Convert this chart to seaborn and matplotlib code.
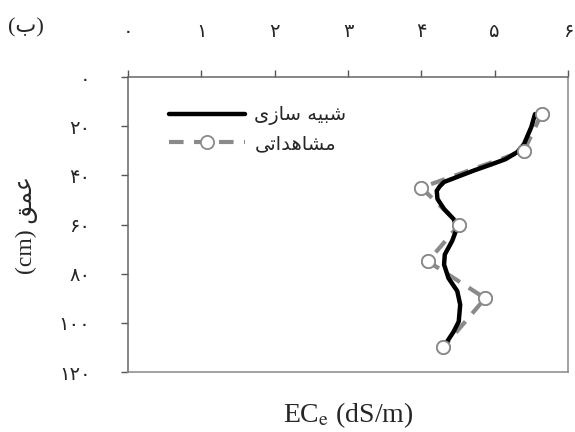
import matplotlib
matplotlib.use("Agg")
import matplotlib.pyplot as plt
import seaborn as sns
import pandas as pd

# ---------------- data ----------------
obs_depth = [15, 30, 45, 60, 75, 90, 110]
obs_ec = [5.64, 5.40, 4.00, 4.52, 4.09, 4.87, 4.30]

sim_depth = [15.1, 20.3, 27.3, 30.5, 33.4, 35.6, 38.0, 41.1, 42.7, 44.5, 46.3, 49.6,
             53.7, 57.8, 61.2, 66.7, 72.2, 76.3, 81.8, 87.1, 92.6, 99.5, 103.6, 107.7]
sim_ec = [5.55, 5.50, 5.40, 5.31, 5.15, 4.95, 4.72, 4.45, 4.31, 4.25, 4.21, 4.22,
          4.31, 4.44, 4.49, 4.42, 4.32, 4.31, 4.37, 4.49, 4.53, 4.51, 4.44, 4.35]

x_ticks = [0, 1, 2, 3, 4, 5, 6]
y_ticks = [0, 20, 40, 60, 80, 100, 120]

label_sim = "شبیه سازی"
label_obs = "مشاهداتی"
label_depth = "عمق"
panel_label = "(ب)"

# ---------------- simple Persian shaping (presentation forms, visual order) ----------------
FORMS = {
    'ا': ('\uFE8D', '\uFE8E', None, None),
    'ب': ('\uFE8F', '\uFE90', '\uFE91', '\uFE92'),
    'ت': ('\uFE95', '\uFE96', '\uFE97', '\uFE98'),
    'د': ('\uFEA9', '\uFEAA', None, None),
    'ز': ('\uFEAF', '\uFEB0', None, None),
    'س': ('\uFEB1', '\uFEB2', '\uFEB3', '\uFEB4'),
    'ش': ('\uFEB5', '\uFEB6', '\uFEB7', '\uFEB8'),
    'ع': ('\uFEC9', '\uFECA', '\uFECB', '\uFECC'),
    'ق': ('\uFED5', '\uFED6', '\uFED7', '\uFED8'),
    'م': ('\uFEE1', '\uFEE2', '\uFEE3', '\uFEE4'),
    'ه': ('\uFEE9', '\uFEEA', '\uFEEB', '\uFEEC'),
    'ی': ('\uFBFC', '\uFBFD', '\uFBFE', '\uFBFF'),
}
MIRROR = {'(': ')', ')': '('}


def fa(text):
    out = []
    n = len(text)
    for i, c in enumerate(text):
        if c not in FORMS:
            out.append(MIRROR.get(c, c))
            continue
        iso, fin, ini, med = FORMS[c]
        prev = text[i - 1] if i > 0 else None
        nxt = text[i + 1] if i < n - 1 else None
        jp = prev in FORMS and FORMS[prev][2] is not None
        jn = nxt in FORMS and ini is not None
        if jp and jn:
            out.append(med)
        elif jp:
            out.append(fin)
        elif jn:
            out.append(ini)
        else:
            out.append(iso)
    return ''.join(reversed(out))


FA_DIGITS = str.maketrans('0123456789', '۰۱۲۳۴۵۶۷۸۹')


def fa_num(v):
    return str(v).translate(FA_DIGITS)


# ---------------- style ----------------
sns.set_style("white")
plt.rcParams['font.family'] = ['Liberation Serif', 'DejaVu Sans']
plt.rcParams['mathtext.fontset'] = 'stix'

fig = plt.figure(figsize=(5.75, 4.32), dpi=100)
ax = fig.add_axes([128 / 575, 1 - 372 / 432, 440 / 575, 295 / 432])

df_obs = pd.DataFrame({'ec': obs_ec, 'depth': obs_depth})
df_sim = pd.DataFrame({'ec': sim_ec, 'depth': sim_depth})

gray = '#8a8a8a'
sns.lineplot(data=df_obs, x='ec', y='depth', sort=False, estimator=None, ax=ax,
             color=gray, linewidth=3, linestyle=(0, (3.5, 2.5)), zorder=2,
             marker='o', markersize=9.5, markerfacecolor='white',
             markeredgecolor=gray, markeredgewidth=1.3)
sns.lineplot(data=df_sim, x='ec', y='depth', sort=False, estimator=None, ax=ax,
             color='black', linewidth=3.2, zorder=3,
             solid_joinstyle='round', solid_capstyle='round')
sns.scatterplot(data=df_obs, x='ec', y='depth', ax=ax, s=90, color='white',
                edgecolor=gray, linewidth=1.3, zorder=4)

ax.set_xlim(0, 6)
ax.set_ylim(120, 0)
ax.set_xticks(x_ticks)
ax.set_yticks(y_ticks)
ax.set_xticklabels([fa_num(v) for v in x_ticks], fontsize=14, family='DejaVu Sans')
ax.set_yticklabels([fa_num(v) for v in y_ticks], fontsize=14, family='DejaVu Sans')

ax.xaxis.set_ticks_position('top')
ax.tick_params(axis='x', which='major', direction='out', length=5, width=1,
               color='#555555', pad=21, top=True, bottom=False)
ax.tick_params(axis='y', which='major', direction='out', length=5, width=1,
               color='#555555', pad=22, left=True, right=False)

for side, sp in ax.spines.items():
    sp.set_visible(True)
    sp.set_linewidth(1.1)
    sp.set_color('#888888')
ax.spines['left'].set_color('#666666')
ax.spines['top'].set_color('#666666')

ax.set_xlabel(r'EC$_\mathrm{e}$ (dS/m)', fontsize=20)
ax.xaxis.set_label_position('bottom')
ax.xaxis.set_label_coords(0.5, -0.095)
ax.set_ylabel('(cm) ' + fa(label_depth), fontsize=17)
ax.yaxis.set_label_coords(-0.205, 0.5)

fig.text(26 / 575, 1 - 28 / 432, fa(panel_label), fontsize=16, ha='center', va='center')

lines = ax.get_lines()
handles = [lines[1], lines[0]]
ax.legend(handles, [fa(label_sim), fa(label_obs)], loc='upper left',
          bbox_to_anchor=(0.075, 0.93), frameon=False, handlelength=3.9,
          prop={'family': 'DejaVu Sans', 'size': 14}, labelspacing=0.45,
          handletextpad=0.5, borderaxespad=0)

fig.savefig('out.png', dpi=100, facecolor='white')
